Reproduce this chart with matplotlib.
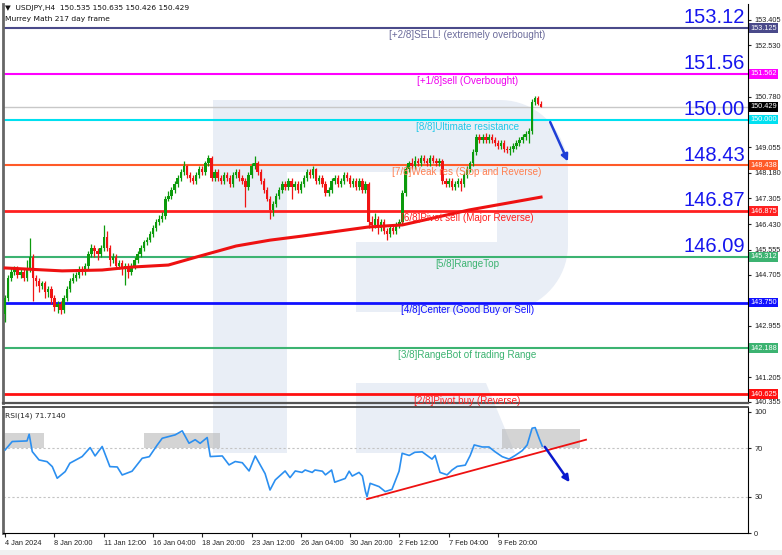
import numpy as np
import matplotlib
matplotlib.use("Agg")
import matplotlib.pyplot as plt
from matplotlib.patches import Rectangle, Polygon
import matplotlib.transforms as mtransforms

plt.rcParams['font.family'] = ['Liberation Sans', 'DejaVu Sans']

# ---- data (bar index = one H4 candle) ----
first_open = 143.35
closes = [143.9, 144.6, 144.8, 144.9, 144.7, 144.8, 144.6, 144.9, 145.3, 144.6,
          144.5, 144.3, 144.4, 144.1, 144.2, 143.9, 143.6, 143.7, 143.5, 143.9,
          144.2, 144.5, 144.6, 144.7, 144.9, 144.8, 145.0, 145.4, 145.6, 145.5,
          145.4, 145.6, 146.0, 145.6, 145.2, 145.3, 145.0, 145.1, 144.9, 145.0,
          144.8, 145.0, 145.2, 145.4, 145.6, 145.8, 145.9, 146.1, 146.3, 146.5,
          146.6, 146.7, 147.3, 147.4, 147.6, 147.8, 148.0, 148.2, 148.4, 148.1,
          148.0, 147.9, 148.1, 148.3, 148.2, 148.5, 148.7, 148.0, 148.2, 148.0,
          147.9, 148.1, 148.0, 147.8, 148.1, 148.2, 148.0, 147.9, 147.7, 148.1,
          148.4, 148.5, 148.2, 147.9, 147.6, 147.3, 146.9, 147.1, 147.4, 147.6,
          147.8, 147.7, 147.9, 147.7, 147.8, 147.6, 147.8, 148.0, 148.2, 148.1,
          148.3, 147.9, 148.0, 147.8, 147.5, 147.6, 147.9, 148.0, 147.8, 147.9,
          148.1, 148.0, 147.8, 147.9, 147.7, 147.9, 147.6, 147.8, 146.5, 146.4,
          146.6, 146.3, 146.5, 146.2, 146.1, 146.3, 146.2, 146.4, 146.5, 147.5,
          148.3, 148.5, 148.4, 148.6, 148.5, 148.7, 148.6, 148.5, 148.7, 148.6,
          148.5, 148.6, 147.9, 147.8, 147.9, 147.7, 147.8, 147.9, 147.8, 148.1,
          148.3, 148.5, 148.9, 149.4, 149.3, 149.4, 149.3, 149.4, 149.3, 149.2,
          149.1, 149.2, 149.0, 148.95, 149.0, 149.1, 149.2, 149.3, 149.4, 149.5,
          149.6, 150.6, 150.75, 150.535, 150.429]
highs = [144.0, 144.7, 144.95, 145.0, 145.0, 144.9, 144.9, 145.2, 145.95, 145.4,
         144.7, 144.6, 144.5, 144.5, 144.3, 144.3, 144.0, 143.8, 143.8, 144.0,
         144.3, 144.6, 144.75, 144.8, 145.0, 145.0, 145.1, 145.5, 145.75, 145.7,
         145.6, 145.7, 146.4, 146.2, 145.7, 145.45, 145.4, 145.2, 145.2, 145.1,
         145.1, 145.1, 145.3, 145.5, 145.7, 145.9, 146.0, 146.2, 146.4, 146.6,
         146.75, 146.85, 147.4, 147.55, 147.7, 147.9, 148.1, 148.3, 148.6, 148.45,
         148.2, 148.1, 148.2, 148.4, 148.4, 148.6, 148.8, 148.75, 148.3, 148.3,
         148.1, 148.2, 148.2, 148.1, 148.2, 148.3, 148.3, 148.1, 148.0, 148.2,
         148.5, 148.75, 148.6, 148.3, 148.0, 147.7, 147.4, 147.2, 147.5, 147.7,
         147.9, 147.9, 148.0, 148.0, 147.9, 147.9, 147.9, 148.1, 148.3, 148.3,
         148.4, 148.35, 148.1, 148.1, 147.9, 147.7, 148.0, 148.1, 148.1, 148.0,
         148.2, 148.2, 148.1, 148.0, 148.0, 148.0, 148.0, 147.9, 147.85, 146.7,
         146.8, 146.7, 146.6, 146.6, 146.3, 146.4, 146.4, 146.5, 146.6, 147.6,
         148.4, 148.6, 148.7, 148.75, 148.7, 148.8, 148.8, 148.7, 148.8, 148.8,
         148.7, 148.7, 148.65, 148.0, 148.0, 148.0, 147.9, 148.0, 148.0, 148.2,
         148.4, 148.6, 149.0, 149.5, 149.5, 149.5, 149.55, 149.5, 149.5, 149.4,
         149.3, 149.3, 149.3, 149.1, 149.1, 149.2, 149.3, 149.4, 149.5, 149.6,
         149.7, 150.7, 150.8, 150.8, 150.635]
lows = [143.1, 143.8, 144.5, 144.7, 144.6, 144.6, 144.5, 144.5, 144.8, 143.8,
        144.3, 144.1, 144.2, 143.9, 143.95, 143.7, 143.45, 143.4, 143.35, 143.4,
        143.8, 144.1, 144.4, 144.5, 144.6, 144.7, 144.7, 144.9, 145.3, 145.3,
        145.2, 145.3, 145.5, 145.5, 145.0, 145.1, 144.9, 144.9, 144.7, 144.35,
        144.6, 144.7, 144.9, 145.1, 145.3, 145.5, 145.7, 145.8, 146.0, 146.2,
        146.4, 146.5, 146.6, 147.2, 147.3, 147.5, 147.7, 147.9, 148.1, 148.0,
        147.85, 147.8, 147.8, 148.0, 148.1, 148.1, 148.4, 147.9, 147.9, 147.9,
        147.8, 147.8, 147.9, 147.7, 147.7, 148.0, 147.9, 147.8, 147.0, 147.6,
        148.0, 148.3, 148.1, 147.8, 147.5, 147.2, 146.6, 146.7, 147.0, 147.3,
        147.5, 147.6, 147.6, 147.3, 147.6, 147.5, 147.5, 147.7, 147.9, 148.0,
        148.0, 147.8, 147.8, 147.7, 147.4, 147.4, 147.5, 147.8, 147.7, 147.7,
        147.8, 147.9, 147.7, 147.7, 147.6, 147.6, 147.5, 147.5, 146.3, 146.2,
        146.3, 146.1, 146.2, 146.1, 145.9, 146.0, 146.1, 146.1, 146.3, 146.4,
        147.4, 148.2, 148.3, 148.3, 148.4, 148.4, 148.5, 148.4, 148.4, 148.5,
        148.4, 148.4, 147.8, 147.7, 147.7, 147.6, 147.6, 147.7, 147.55, 147.7,
        148.0, 148.2, 148.4, 148.8, 149.2, 149.2, 149.2, 149.2, 149.2, 149.1,
        149.0, 149.0, 148.9, 148.85, 148.8, 148.9, 149.0, 149.1, 149.2, 149.3,
        149.2, 149.5, 150.5, 150.5, 150.426]

ma_idx = [0, 18.5, 31.5, 41, 53, 62, 75, 86, 96.5, 118, 129, 150.6, 174]
ma_val = [144.93, 144.83, 144.86, 144.96, 145.03, 145.30, 145.68, 145.88, 146.02,
          146.33, 146.40, 146.91, 147.35]

rsi_idx = [0, 2.3, 7.1, 7.8, 8.8, 11, 13.6, 15.3, 16.9, 19.5, 21, 25, 27.6, 29.2,
           31.5, 34, 36.4, 38, 41.2, 44.5, 46.8, 49.4, 51, 55.2, 57.5, 59.7, 61.7,
           63.3, 65.6, 66.6, 70.5, 72.7, 74.7, 77, 79.2, 81.2, 84.4, 86, 87.7, 90.9,
           92.5, 94.2, 96.4, 97.4, 99.7, 100.6, 103, 104, 106, 107, 110.4, 111.7,
           112.7, 114.9, 116, 117, 117.5, 118.5, 121.4, 123.4, 125.6, 127.9, 128.9,
           131.2, 133, 135.4, 137, 138.6, 139.6, 141.2, 143.5, 145.1, 146.8, 149.4,
           151, 152.3, 154.9, 157.1, 159.1, 161.4, 163.6, 165.6, 167.9, 169.5,
           171.1, 172.1, 173.4, 174.4]
rsi_val = [68.6, 75.5, 76, 81.5, 67.2, 60.3, 58.9, 54.8, 45.2, 50.7, 57.6, 63.1,
           70.5, 63.6, 71.4, 54.8, 54.5, 47.9, 51, 61.7, 63, 72.7, 78.2, 81, 84.3,
           74.1, 77, 74, 78.8, 63.1, 63.6, 56.2, 59, 58, 51.2, 63.6, 49, 35.5, 43.8,
           51.2, 45.7, 51.2, 50, 52, 50, 52, 51, 48, 52, 41.9, 45, 51, 47, 50, 47,
           34.2, 30, 41, 38.3, 34.2, 36, 51, 65.8, 64, 66.6, 67, 64, 61, 64, 50,
           48, 52, 55, 56, 64, 72.7, 71, 71, 67, 63, 61, 64, 68, 72.7, 86.5, 87,
           78, 71.7]

date_pos = [0, 16, 32, 48, 64, 80, 96, 112, 128, 144, 160]
date_labels = ["4 Jan 2024", "8 Jan 20:00", "11 Jan 12:00", "16 Jan 04:00",
               "18 Jan 20:00", "23 Jan 12:00", "26 Jan 04:00", "30 Jan 20:00",
               "2 Feb 12:00", "7 Feb 04:00", "9 Feb 20:00"]

levels = [153.125, 151.562, 150.000, 148.438, 146.875, 145.312, 143.750, 142.188, 140.625]
level_names = ["[+2/8]SELL! (extremely overbought)", "[+1/8]sell (Overbought)",
               "[8/8]Ultimate resistance", "[7/8]Weak res (Stop and Reverse)",
               "[6/8]Pivot sell (Major Reverse)", "[5/8]RangeTop",
               "[4/8]Center (Good Buy or Sell)", "[3/8]RangeBot of trading Range",
               "[2/8]Pivot buy (Reverse)"]
level_colors = ["#4a4a8a", "#ff00ff", "#00e0f0", "#ff5a28", "#ff2020",
                "#3cb371", "#1010ff", "#3cb371", "#ff1010"]
text_colors = ["#6a6a9a", "#ee00ee", "#22c8e8", "#ff7f50", "#ff2020",
               "#3cb371", "#1010ff", "#3cb371", "#ff2020"]
level_tags = ["153.125", "151.562", "150.000", "148.438", "146.875",
              "145.312", "143.750", "142.188", "140.625"]

big_labels = ["153.12", "151.56", "150.00", "148.43", "146.87", "146.09"]
big_levels = [153.125, 151.562, 150.000, 148.438, 146.875, 145.312]

price_ticks = [153.405, 152.530, 150.780, 149.055, 148.180, 147.305, 146.430,
               145.555, 144.705, 142.955, 141.205, 140.355]
last_price = 150.429

W, H = 782, 555
fig = plt.figure(figsize=(W / 100, H / 100), dpi=100)
fig.patch.set_facecolor("white")


def px(x, y):
    return (x / W, 1 - y / H)


def frect(x0, y0, x1, y1):
    l, t = px(x0, y0)
    r, b = px(x1, y1)
    return [l, b, r - l, t - b]


ax = fig.add_axes(frect(3, 4, 748, 403))
ax_r = fig.add_axes(frect(3, 407, 748, 533), sharex=ax)
for a in (ax, ax_r):
    a.set_facecolor("none")

# watermark logo (figure level, behind the axes), in pixel coordinates
wm = "#e9eef6"
t = np.linspace(0, np.pi / 2, 20)
top_arc = list(zip(500 + 68 * np.sin(t), 170 - 70 * np.cos(t)))
low_arc = list(zip(500 + 68 * np.cos(t), 245 + 67 * np.sin(t)))
bowl = ([(285, 100)] + top_arc + low_arc +
        [(356, 312), (356, 242), (497, 242), (497, 172), (285, 172)])
wm_shapes = [
    [(213, 100), (287, 100), (287, 453), (213, 453)],
    bowl,
    [(356, 383), (486, 383), (515, 453), (356, 453)],
]
for pts in wm_shapes:
    fig.patches.append(Polygon([px(x, y) for x, y in pts], closed=True, fc=wm, ec="none",
                               transform=fig.transFigure, zorder=-5))
fig.patches.append(Rectangle((0, 0), 1, 5 / H, transform=fig.transFigure,
                             fc="#f0f0f0", ec="none", zorder=-5))

# candles
opens = [first_open] + closes[:-1]
idx = list(range(len(closes)))
for i in idx:
    o, c = opens[i], closes[i]
    col = "#0c9a0c" if c >= o else "#f01414"
    ax.vlines(i, lows[i], highs[i], color=col, lw=0.9, zorder=3)
    ax.bar(i, max(abs(c - o), 0.02), bottom=min(o, c), width=0.78, color=col,
           lw=0, zorder=3)

ax.plot(ma_idx, ma_val, color="#ee1111", lw=2.2, zorder=4)

bt = mtransforms.blended_transform_factory(ax.transAxes, ax.transData)
ax.axhline(last_price, color="#c8c8c8", lw=1, zorder=1)
for lvl, name, lc, tc in zip(levels, level_names, level_colors, text_colors):
    lw = 2.0 if lc in ("#1010ff", "#ff2020", "#ff1010") else 1.5
    ax.axhline(lvl, color=lc, lw=lw, zorder=2)
    ax.annotate(name, (150, lvl), xytext=(0, -1.5), textcoords="offset points",
                ha="center", va="top", color=tc, fontsize=7.1, zorder=5)

for lab, lvl in zip(big_labels, big_levels):
    ax.annotate(lab, (1, lvl), xycoords=bt, xytext=(-2, 0.5), textcoords="offset points",
                ha="right", va="bottom", color="#1515ee", fontsize=14.5, zorder=6)

for tag, lvl, lc in zip(level_tags + ["150.429"], levels + [last_price],
                        level_colors + ["black"]):
    ax.text(1.003, lvl, tag, transform=bt, ha="left", va="center", color="white",
            fontsize=5.3, clip_on=False, zorder=7,
            bbox=dict(boxstyle="square,pad=0.18", fc=lc, ec="none"))

ax.annotate("", xy=(183.1, 148.48), xytext=(176.6, 150.0),
            arrowprops=dict(arrowstyle="-|>", color="#1f3fd6", lw=1.8, mutation_scale=10),
            zorder=6)

ax.set_xlim(-0.7, 241.2)
ax.set_ylim(140.318, 153.945)
ax.yaxis.tick_right()
ax.set_yticks(price_ticks)
ax.set_yticklabels([f"{t:.3f}" for t in price_ticks])
ax.tick_params(axis="y", labelsize=5.3, length=2.5, pad=2, colors="#222222")
ax.tick_params(axis="x", bottom=False, labelbottom=False)
ax.spines["top"].set_visible(False)
ax.spines["left"].set_color("#666666")
ax.spines["left"].set_linewidth(2)
ax.spines["bottom"].set_color("#555555")
ax.spines["bottom"].set_linewidth(1.6)
ax.spines["right"].set_color("black")

fig.text(5 / W, 1 - 8 / H, "\u25bc  USDJPY,H4  150.535 150.635 150.426 150.429",
         fontsize=5.4, va="center", ha="left", color="#111111",
         family=["DejaVu Sans"])
fig.text(5 / W, 1 - 19 / H, "Murrey Math 217 day frame", fontsize=5.4,
         va="center", ha="left", color="#111111", family=["DejaVu Sans"])

# RSI panel
rsi_boxes = [(0, 12.7, 70, 82.6), (45.1, 69.8, 70, 82.6), (161.4, 186.7, 70, 86)]
for x0, x1, y0, y1 in rsi_boxes:
    ax_r.add_patch(Rectangle((x0, y0), x1 - x0, y1 - y0, fc="#b8b8b8", ec="none",
                             alpha=0.6, zorder=1))
for lv in (70, 30):
    ax_r.axhline(lv, color="#c4c4c4", lw=0.8, ls=(0, (2, 2)), zorder=0)
ax_r.plot(rsi_idx, rsi_val, color="#2b8ff0", lw=1.2, zorder=3)
ax_r.plot([117.5, 188.6], [28, 77], color="#ee1111", lw=1.3, zorder=4)
ax_r.annotate("", xy=(183.8, 40), xytext=(174.7, 73),
              arrowprops=dict(arrowstyle="-|>", color="#0a1acd", lw=1.8, mutation_scale=10),
              zorder=5)
ax_r.text(0.003, 0.93, "RSI(14) 71.7140", transform=ax_r.transAxes, fontsize=5.4,
          va="center", ha="left", color="#222222", family=["DejaVu Sans"])
ax_r.set_ylim(0, 104)
ax_r.yaxis.tick_right()
ax_r.set_yticks([0, 30, 70, 100])
ax_r.tick_params(axis="y", labelsize=5.3, length=2.5, pad=2, colors="#222222")
ax_r.set_xticks(date_pos)
ax_r.set_xticklabels(date_labels, ha="left")
ax_r.tick_params(axis="x", labelsize=5.3, length=3, pad=2, colors="#222222")
ax_r.spines["top"].set_color("#444444")
ax_r.spines["top"].set_linewidth(1.3)
ax_r.spines["left"].set_color("#666666")
ax_r.spines["left"].set_linewidth(2)

fig.savefig("out.png", dpi=100)
